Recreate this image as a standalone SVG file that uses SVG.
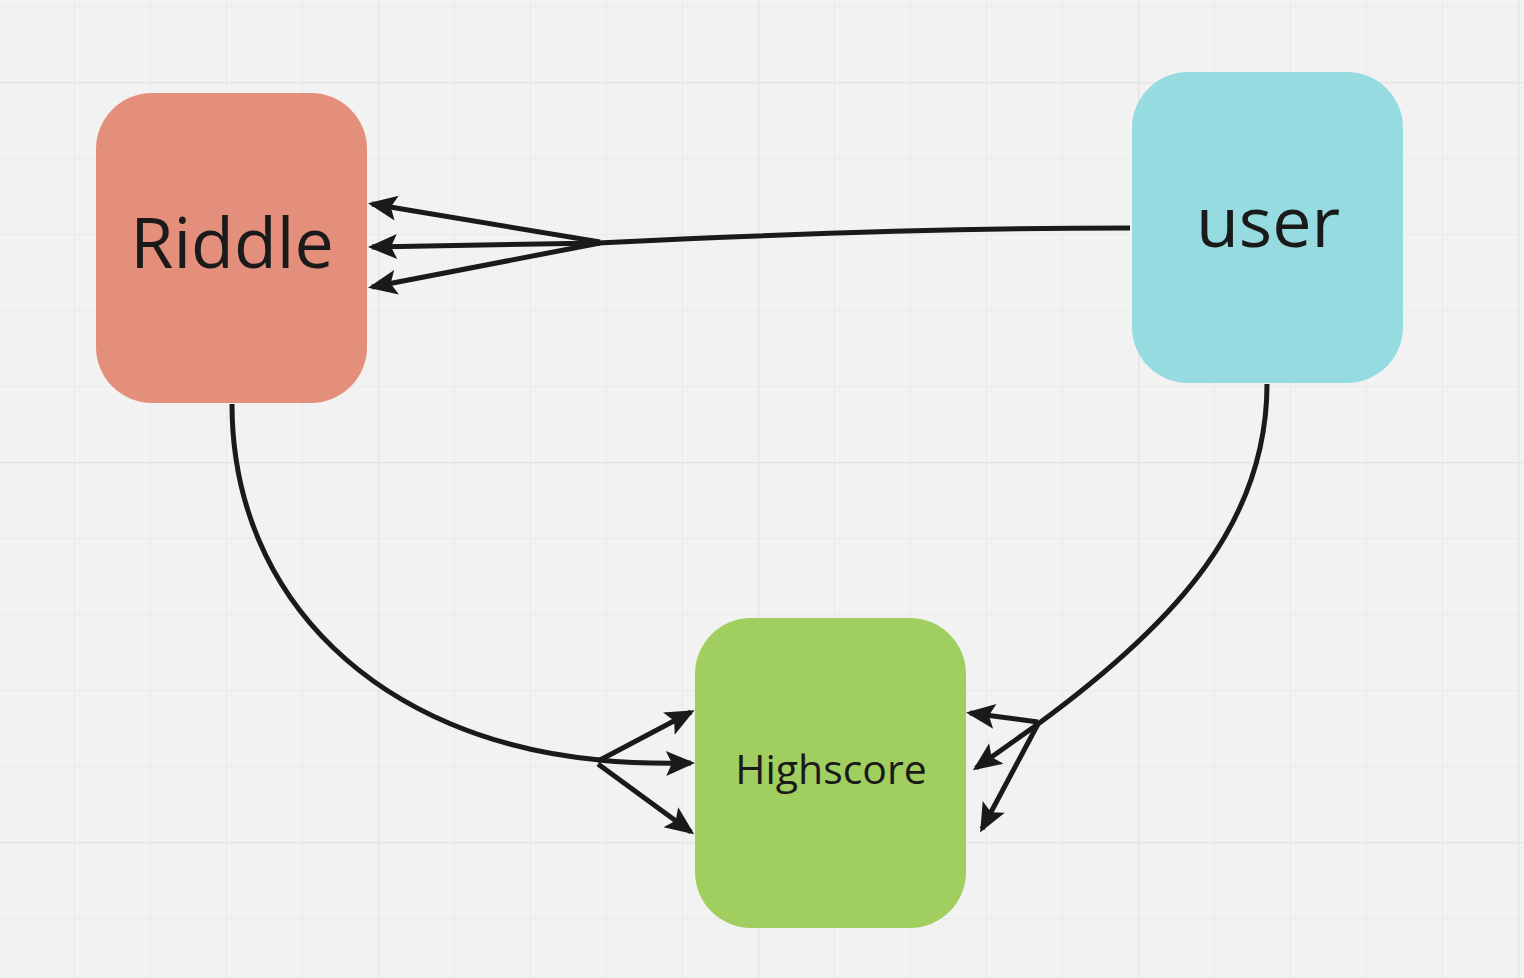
<svg xmlns="http://www.w3.org/2000/svg" width="1524" height="978" viewBox="0 0 1524 978">
  <defs>
    <pattern id="minor" x="-2" y="6" width="76" height="76" patternUnits="userSpaceOnUse">
      <path d="M0,0 V76 M0,0 H76" fill="none" stroke="#e9e9e9" stroke-width="2"/>
    </pattern>
    <pattern id="major" x="-2" y="82" width="380" height="380" patternUnits="userSpaceOnUse">
      <path d="M0,0 V380 M0,0 H380" fill="none" stroke="#e3e3e3" stroke-width="2.5"/>
    </pattern>
    <marker id="arrow" markerUnits="userSpaceOnUse" markerWidth="40" markerHeight="40" refX="0" refY="0" viewBox="-30 -20 40 40" orient="auto" overflow="visible">
      <path d="M4,0 L-25,-12.5 L-19,0 L-25,12.5 Z" fill="#1a1a1a"/>
    </marker>
    <style>
      .node-text { font-family: "Open Sans", "Noto Sans", "DejaVu Sans", sans-serif; fill: #1a1a1a; text-anchor: middle; }
      .conn { fill: none; stroke: #1a1a1a; stroke-width: 5; stroke-linecap: butt; stroke-linejoin: round; }
      .arr { marker-end: url(#arrow); }
    </style>
  </defs>
  <rect width="1524" height="978" fill="#f2f2f2"/>
  <rect width="1524" height="978" fill="url(#minor)"/>
  <rect width="1524" height="978" fill="url(#major)"/>

  <g id="connectors">
    <!-- user -> Riddle -->
    <path class="conn" d="M1130,228 C950,228 760,235 598,243"/>
    <path class="conn arr" d="M600,242 L372,204"/>
    <path class="conn arr" d="M600,243 L372,247"/>
    <path class="conn arr" d="M600,243 L372,287"/>
    <!-- Riddle -> Highscore -->
    <path class="conn" d="M232,404 C232,600 380,740 600,760"/>
    <path class="conn arr" d="M600,760 L691,712"/>
    <path class="conn arr" d="M598,760 Q640,764 691,763"/>
    <path class="conn arr" d="M598,764 L691,832"/>
    <!-- user -> Highscore -->
    <path class="conn" d="M1267,384 C1267,520 1180,620 1038,724"/>
    <path class="conn arr" d="M1038,722 L970,713"/>
    <path class="conn arr" d="M1038,724 L976,768"/>
    <path class="conn arr" d="M1038,724 L982,829"/>
  </g>

  <g id="node-riddle">
    <rect x="96" y="93" width="271" height="310" rx="56" fill="#e48f7b"/>
    <text class="node-text" x="232" y="268" font-size="70">Riddle</text>
  </g>
  <g id="node-user">
    <rect x="1132" y="72" width="271" height="311" rx="56" fill="#95dbdf"/>
    <text class="node-text" x="1268" y="247" font-size="70">user</text>
  </g>
  <g id="node-highscore">
    <rect x="695" y="618" width="271" height="310" rx="56" fill="#a0cf60"/>
    <text class="node-text" x="831" y="784" font-size="41">Highscore</text>
  </g>
</svg>
